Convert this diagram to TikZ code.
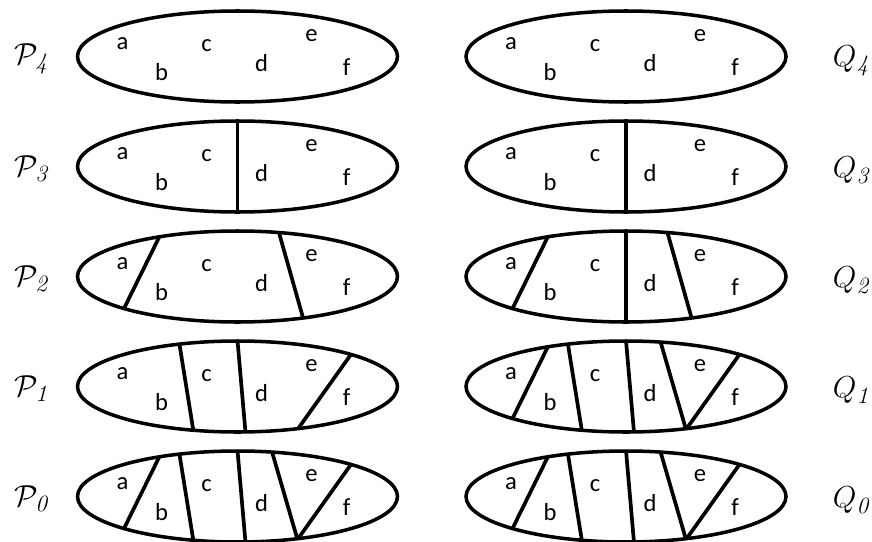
\documentclass[tikz,border=0pt]{standalone}
\usepackage{fontspec}
\usetikzlibrary{calc}
\newfontfamily\elemfont{Carlito}

% one partitioned set: name, centre x, centre y, list of cuts
\newcommand{\partblob}[4]{%
  \begin{scope}[shift={(#2,#3)}]
    % cut end points
    \coordinate (ab-t)  at (-79,-38);  \coordinate (ab-b)  at (-114,33);
    \coordinate (bc-t)  at (-58,-42);  \coordinate (bc-b)  at (-44,45);
    \coordinate (cd-t)  at (0,-46);    \coordinate (cd-b)  at (8,46);
    \coordinate (cdv-t) at (0,-46);    \coordinate (cdv-b) at (0,46);
    \coordinate (dew-t) at (42,-42);   \coordinate (dew-b) at (66,43);
    \coordinate (de-t)  at (35,-43);   \coordinate (de-b)  at (60,43);
    \coordinate (ef-t)  at (112,-30);  \coordinate (ef-b)  at (60,43);
    \begin{scope}
      \clip (0,0) ellipse [x radius=160, y radius=45.5];
      \foreach \c in {#4}
        \draw[cut] ($(\c-t)!-0.2!(\c-b)$) -- ($(\c-b)!-0.2!(\c-t)$);
    \end{scope}
    \draw[blob] (0,0) ellipse [x radius=160, y radius=45.5];
    \foreach \l/\px/\py in {a/-115/-13, b/-76/16, c/-31/-11, d/24/7, e/74/-21, f/109/11}
      \node[elem] (#1-\l) at (\px,\py) {\l};
  \end{scope}}

\begin{document}
\begin{tikzpicture}[
  x=0.02cm, y=-0.02cm,
  blob/.style={line width=2pt, black},
  cut/.style={line width=2.1pt, black},
  elem/.style={font=\elemfont\fontsize{14}{16}\selectfont, inner sep=0pt},
  lbl/.style={font=\fontsize{19}{22}\selectfont, inner sep=0pt},
]

\useasboundingbox (0,0) rectangle (872,541);

% =============================================
% Left column: P_4 ... P_0
% =============================================
\partblob{P4}{237.5}{56.5}{}
\partblob{P3}{237.5}{166.5}{cdv}
\partblob{P2}{237.5}{276.5}{ab, dew}
\partblob{P1}{237.5}{386.5}{bc, cd, ef}
\partblob{P0}{237.5}{496.5}{ab, bc, cd, de, ef}

% =============================================
% Right column: Q_4 ... Q_0
% =============================================
\partblob{Q4}{626}{56.5}{}
\partblob{Q3}{626}{166.5}{cdv}
\partblob{Q2}{626}{276.5}{ab, cdv, dew}
\partblob{Q1}{626}{386.5}{ab, bc, cd, de, ef}
\partblob{Q0}{626}{496.5}{ab, bc, cd, de, ef}

% =============================================
% Row labels
% =============================================
\foreach \k/\y in {4/56.5, 3/166.5, 2/276.5, 1/386.5, 0/496.5} {
  \node[lbl] (p\k) at (31,\y+2) {$\mathcal{P}_{\mathit{\k}}$};
  \node[lbl] (q\k) at (851,\y+4) {$Q_{\mathit{\k}}$};
}

\end{tikzpicture}
\end{document}
